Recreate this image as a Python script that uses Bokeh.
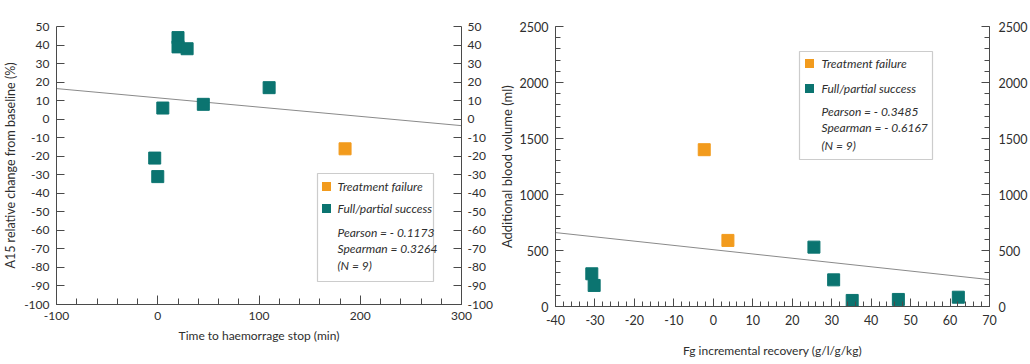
from bokeh.plotting import figure
from bokeh.layouts import row
from bokeh.models import LinearAxis, FixedTicker, Range1d, Label, BoxAnnotation
from bokeh.embed import file_html
from bokeh.resources import INLINE

# ---------------- data ----------------
# Left panel: A15 relative change vs time to haemorrhage stop
left_fail_x = [185]
left_fail_y = [-16]
left_succ_x = [-3, 0, 5, 20, 20, 29, 45, 110]
left_succ_y = [-21, -31, 6, 44, 39, 38, 8, 17]
left_fit_x = [-100, 300]
left_fit_y = [16.5, -3.5]
left_x_ticks = [-100, 0, 100, 200, 300]
left_y_ticks = list(range(-100, 51, 10))
left_stats = ["Pearson = - 0.1173", "Spearman = 0.3264", "(N = 9)"]

# Right panel: additional blood volume vs Fg incremental recovery
right_fail_x = [-2.3, 3.7]
right_fail_y = [1400, 590]
right_succ_x = [-30.8, -30.2, 25.5, 30.5, 35.2, 46.9, 62.1]
right_succ_y = [292, 188, 530, 238, 54, 63, 83]
right_fit_x = [-40, 70]
right_fit_y = [660, 240]
right_x_ticks = list(range(-40, 71, 10))
right_y_ticks = list(range(0, 2501, 500))
right_stats = ["Pearson = - 0.3485", "Spearman = - 0.6167", "(N = 9)"]

legend_labels = ["Treatment failure", "Full/partial success"]

ORANGE = "#f29b1d"
TEAL = "#0b7470"
AX = "#4a4a4a"
TXT = "#2e2e2e"
FONT = "Lato"


def style_axis(ax, ticks, minor, fs, standoff):
    ax.ticker = FixedTicker(ticks=ticks, minor_ticks=minor)
    ax.major_label_overrides = {t: str(t) for t in ticks}
    ax.major_tick_in = 8
    ax.major_tick_out = 0
    ax.minor_tick_in = 5
    ax.minor_tick_out = 0
    ax.axis_line_color = AX
    ax.major_tick_line_color = AX
    ax.minor_tick_line_color = AX
    ax.major_label_text_font = FONT
    ax.major_label_text_font_size = fs
    ax.major_label_text_color = TXT
    ax.major_label_standoff = standoff
    ax.axis_label_text_font = FONT
    ax.axis_label_text_font_style = "normal"
    ax.axis_label_text_color = TXT


def make_fig(xr, yr, fw, fh, bl, br, bt, bb):
    p = figure(frame_width=fw, frame_height=fh,
               x_range=Range1d(*xr), y_range=Range1d(*yr),
               output_backend="svg", toolbar_location=None,
               min_border_left=bl, min_border_right=br,
               min_border_top=bt, min_border_bottom=bb)
    p.outline_line_color = None
    p.grid.visible = False
    p.background_fill_color = "white"
    p.border_fill_color = "white"
    return p


def add_legend(p, xr, yr, fl, ft, fw, fh, box, sq, tx, ty, stats):
    def dx(px):
        return xr[0] + (px - fl) / fw * (xr[1] - xr[0])

    def dy(py):
        return yr[1] - (py - ft) / fh * (yr[1] - yr[0])

    p.add_layout(BoxAnnotation(left=dx(box[0]), right=dx(box[2]), top=dy(box[1]), bottom=dy(box[3]),
                               fill_color="white", fill_alpha=1, line_color="#555", line_width=1.2, level="overlay"))
    colors = [ORANGE, TEAL]
    for i, lab in enumerate(legend_labels):
        cx, cy = sq[i]
        p.add_layout(BoxAnnotation(left=dx(cx - 4.5), right=dx(cx + 4.5), top=dy(cy - 4.5), bottom=dy(cy + 4.5),
                                   fill_color=colors[i], fill_alpha=1, line_color=None, level="overlay"))
        p.add_layout(Label(x=dx(tx), y=dy(ty[i]), text=lab, text_font=FONT, text_font_style="italic",
                           text_font_size="12px", text_color=TXT, text_baseline="middle", level="overlay"))
    for j, s in enumerate(stats):
        p.add_layout(Label(x=dx(tx), y=dy(ty[2 + j]), text=s, text_font=FONT, text_font_style="italic",
                           text_font_size="12px", text_color=TXT, text_baseline="middle", level="overlay"))


# ---------------- left panel ----------------
LXR, LYR = (-100, 300), (-100, 50)
p1 = make_fig(LXR, LYR, 405, 278, 56, 29, 26, 60)
p1.line(left_fit_x, left_fit_y, line_color="#8a8a8a", line_width=1)
p1.scatter(left_succ_x, left_succ_y, marker="square", size=12, fill_color=TEAL, line_color=TEAL)
p1.scatter(left_fail_x, left_fail_y, marker="square", size=12, fill_color=ORANGE, line_color=ORANGE)
style_axis(p1.xaxis[0], left_x_ticks, list(range(-100, 301, 20)), "12px", 7)
p1.xaxis[0].major_tick_in = 9
p1.xaxis[0].minor_tick_in = 6
p1.xaxis[0].axis_label = "Time to haemorrage stop (min)"
p1.xaxis[0].axis_label_text_font_size = "12px"
p1.xaxis[0].axis_label_standoff = 5
style_axis(p1.yaxis[0], left_y_ticks, [], "12px", 7)
p1.yaxis[0].axis_label = "A15 relative change from baseline (%)"
p1.yaxis[0].axis_label_text_font_size = "12.5px"
p1.yaxis[0].axis_label_standoff = 3
r1 = LinearAxis()
style_axis(r1, left_y_ticks, [], "12px", 6)
p1.add_layout(r1, "right")
add_legend(p1, LXR, LYR, 56, 26, 405, 278, (317, 173, 433, 281),
           [(326, 186), (326, 208)], 337, [186, 208, 232, 248, 265], left_stats)

# ---------------- right panel ----------------
RXR, RYR = (-40, 70), (0, 2500)
p2 = make_fig(RXR, RYR, 434, 280, 59, 47, 26, 58)
p2.line(right_fit_x, right_fit_y, line_color="#8a8a8a", line_width=1)
p2.scatter(right_succ_x, right_succ_y, marker="square", size=12, fill_color=TEAL, line_color=TEAL)
p2.scatter(right_fail_x, right_fail_y, marker="square", size=12, fill_color=ORANGE, line_color=ORANGE)
style_axis(p2.xaxis[0], right_x_ticks, list(range(-40, 71, 2)), "12.5px", 8)
p2.xaxis[0].axis_label = "Fg incremental recovery (g/l/g/kg)"
p2.xaxis[0].axis_label_text_font_size = "12px"
p2.xaxis[0].axis_label_standoff = 15
style_axis(p2.yaxis[0], right_y_ticks, list(range(0, 2501, 100)), "12.5px", 7)
p2.yaxis[0].axis_label = "Additional blood volume (ml)"
p2.yaxis[0].axis_label_text_font_size = "13px"
p2.yaxis[0].axis_label_standoff = 2
r2 = LinearAxis()
style_axis(r2, right_y_ticks, list(range(0, 2501, 100)), "12.5px", 9)
p2.add_layout(r2, "right")
add_legend(p2, RXR, RYR, 59, 26, 434, 280, (303, 51, 436, 159),
           [(313, 63), (313, 88)], 325, [63, 88, 111, 127, 145], right_stats)

layout = row(p1, p2, spacing=0)
open("out.html", "w").write(file_html(layout, INLINE))
